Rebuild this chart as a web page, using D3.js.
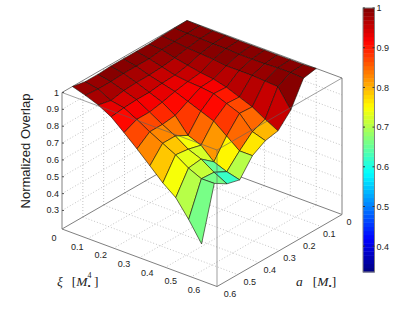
<!DOCTYPE html>
<html lang="en">
<head>
<meta charset="UTF-8">
<title>Normalized Overlap</title>
<script src="https://d3js.org/d3.v7.min.js"></script>
<style>
  html, body { margin: 0; padding: 0; background: #fff; }
  svg { display: block; }
  text { font-family: "Liberation Sans", sans-serif; fill: #222; }
  .math { font-family: "Liberation Serif", serif; font-style: italic; }
  .math .up { font-style: normal; }
</style>
</head>
<body>
<div id="chart"></div>
<script>
// grid of the surface
var xiGrid = [0, 0.05, 0.1, 0.15, 0.2, 0.25, 0.3, 0.35, 0.4, 0.45, 0.5];
var aGrid = [0, 0.061, 0.122, 0.183, 0.244, 0.306, 0.367, 0.428, 0.489, 0.55];

// overlap, one array per a value
var row0 = [1.00, 0.998, 0.996, 0.996, 0.995, 0.995, 0.995, 0.995, 0.995, 0.995, 1.00];
var row1 = [0.998, 0.995, 0.993, 0.99, 0.99, 0.985, 0.985, 0.985, 0.99, 0.99, 0.985];
var row2 = [0.995, 0.99, 0.98, 0.975, 0.97, 0.96, 0.96, 0.96, 0.955, 0.95, 0.84];
var row3 = [0.99, 0.985, 0.965, 0.95, 0.935, 0.925, 0.905, 0.875, 0.845, 0.80, 0.76];
var row4 = [0.99, 0.975, 0.955, 0.935, 0.925, 0.92, 0.91, 0.88, 0.85, 0.77, 0.745];
var row5 = [0.99, 0.975, 0.95, 0.93, 0.91, 0.88, 0.85, 0.82, 0.76, 0.70, 0.70];
var row6 = [0.99, 0.975, 0.95, 0.92, 0.89, 0.84, 0.75, 0.72, 0.65, 0.62, 0.60];
var row7 = [0.985, 0.97, 0.945, 0.92, 0.875, 0.83, 0.79, 0.74, 0.71, 0.66, 0.62];
var row8 = [0.985, 0.97, 0.93, 0.915, 0.875, 0.83, 0.79, 0.75, 0.70, 0.665, 0.666];
var row9 = [1.00, 0.976, 0.947, 0.905, 0.84, 0.772, 0.70, 0.627, 0.568, 0.467, 0.35];
var overlap = [row0, row1, row2, row3, row4, row5, row6, row7, row8, row9];

var zTicks = [0.3, 0.4, 0.5, 0.6, 0.7, 0.8, 0.9, 1];
var xiTicks = [0, 0.1, 0.2, 0.3, 0.4, 0.5, 0.6];
var aTicks = [0, 0.1, 0.2, 0.3, 0.4, 0.5, 0.6];
var barTicks = [0.4, 0.5, 0.6, 0.7, 0.8, 0.9, 1];

var width = 415, height = 312;
var svg = d3.select("#chart").append("svg").attr("width", width).attr("height", height);

// the view is orthographic, so each data axis adds a fixed screen offset
var xiX = d3.scaleLinear().domain([0, 0.6]).range([0, 155]);
var xiY = d3.scaleLinear().domain([0, 0.6]).range([0, 57.5]);
var aX = d3.scaleLinear().domain([0, 0.6]).range([0, -125]);
var aY = d3.scaleLinear().domain([0, 0.6]).range([0, 72]);
var zY = d3.scaleLinear().domain([0.19, 1]).range([0, -136.5]);

function project(xi, a, z) {
  return [187 + xiX(xi) + aX(a), 157 + xiY(xi) + aY(a) + zY(z)];
}
var line = d3.line();
var facet = d3.line().curve(d3.curveLinearClosed);

function jet(p) {
  function f(v) { return Math.round(255 * Math.max(0, Math.min(1, v))); }
  return "rgb(" + f(1.5 - Math.abs(4 * p - 3)) + "," + f(1.5 - Math.abs(4 * p - 2)) + "," + f(1.5 - Math.abs(4 * p - 1)) + ")";
}
var zMin = 0.335, zMax = 1;
var jetColors = d3.range(64).map(function(k) { return jet((k + 0.5) / 64); });
var color = d3.scaleQuantize().domain([zMin, zMax]).range(jetColors);

// grid lines on the floor and the two back walls
var zLow = 0.19;
var grid = svg.append("g").attr("fill", "none").attr("stroke", "#bdbdbd")
  .attr("stroke-width", 0.9).attr("stroke-dasharray", "1 2");
xiTicks.slice(1, -1).forEach(function(t) {
  grid.append("path").attr("d", line([project(t, 0, zLow), project(t, 0.6, zLow)]));
  grid.append("path").attr("d", line([project(t, 0, zLow), project(t, 0, 1)]));
});
aTicks.slice(1, -1).forEach(function(t) {
  grid.append("path").attr("d", line([project(0, t, zLow), project(0.6, t, zLow)]));
  grid.append("path").attr("d", line([project(0, t, zLow), project(0, t, 1)]));
});
zTicks.slice(0, -1).forEach(function(t) {
  grid.append("path").attr("d", line([project(0, 0.6, t), project(0, 0, t), project(0.6, 0, t)]));
});

// box edges behind the surface
var box = svg.append("g").attr("fill", "none").attr("stroke", "#808080").attr("stroke-width", 1);
box.append("path").attr("d", line([project(0, 0.6, 1), project(0, 0.6, zLow), project(0.6, 0.6, zLow), project(0.6, 0, zLow), project(0.6, 0, 1)]));
box.append("path").attr("d", line([project(0, 0.6, zLow), project(0, 0, zLow), project(0.6, 0, zLow)]));
box.append("path").attr("d", line([project(0, 0.6, 1), project(0, 0, 1), project(0.6, 0, 1)]));

// facets, back to front; each takes the colour of its back corner
var faces = svg.append("g").attr("stroke", "#1a1008").attr("stroke-width", 0.6).attr("stroke-linejoin", "round");
d3.range(aGrid.length - 1).forEach(function(j) {
  d3.range(xiGrid.length - 1).forEach(function(i) {
    faces.append("path")
      .attr("fill", color(overlap[j][i]))
      .attr("d", facet([
        project(xiGrid[i], aGrid[j], overlap[j][i]),
        project(xiGrid[i + 1], aGrid[j], overlap[j][i + 1]),
        project(xiGrid[i + 1], aGrid[j + 1], overlap[j + 1][i + 1]),
        project(xiGrid[i], aGrid[j + 1], overlap[j + 1][i])
      ]));
  });
});

// the front box edges show through the surface
var front = svg.append("g").attr("fill", "none").attr("stroke", "#606060").attr("stroke-width", 0.8).attr("stroke-opacity", 0.75);
front.append("path").attr("d", line([project(0, 0.6, 1), project(0.6, 0.6, 1), project(0.6, 0, 1)]));
front.append("path").attr("d", line([project(0.6, 0.6, 1), project(0.6, 0.6, zLow)]));

// z axis
var zAxis = svg.append("g").attr("font-size", 9).attr("text-anchor", "end");
zTicks.forEach(function(t) {
  var p = project(0, 0.6, t);
  zAxis.append("path").attr("d", line([p, [p[0] + 2, p[1]]])).attr("stroke", "#555");
  zAxis.append("text").attr("x", p[0] - 3).attr("y", p[1] + 3).text(t);
});

// tick labels of the floor axes
var xiLabelX = d3.scaleLinear().domain([0, 0.6]).range([54, 194]);
var xiLabelY = d3.scaleLinear().domain([0, 0.6]).range([241, 293]);
xiTicks.forEach(function(t) {
  svg.append("text").attr("x", xiLabelX(t)).attr("y", xiLabelY(t))
    .attr("font-size", 9).attr("text-anchor", "middle").text(t);
});
var aLabelX = d3.scaleLinear().domain([0, 0.6]).range([349, 230]);
var aLabelY = d3.scaleLinear().domain([0, 0.6]).range([225, 297]);
aTicks.forEach(function(t) {
  svg.append("text").attr("x", aLabelX(t)).attr("y", aLabelY(t))
    .attr("font-size", 9).attr("text-anchor", "middle").text(t);
});

// axis titles
svg.append("text").attr("transform", "translate(30,151) rotate(-90)")
  .attr("font-size", 13).attr("text-anchor", "middle").text("Normalized Overlap");

var xiTitle = svg.append("text").attr("class", "math").attr("x", 57).attr("y", 286).attr("font-size", 13.5);
xiTitle.append("tspan").text("\u03BE");
xiTitle.append("tspan").attr("class", "up").attr("dx", 9).text("[");
xiTitle.append("tspan").text("M");
xiTitle.append("tspan").attr("class", "up").attr("dy", 3).attr("font-size", 9).text("\u2022");
xiTitle.append("tspan").attr("class", "up").attr("dx", -3.2).attr("dy", -11).attr("font-size", 8).text("4");
xiTitle.append("tspan").attr("class", "up").attr("dx", 2.5).attr("dy", 8).text("]");

var aTitle = svg.append("text").attr("class", "math").attr("x", 296).attr("y", 286).attr("font-size", 13.5);
aTitle.append("tspan").text("a");
aTitle.append("tspan").attr("class", "up").attr("dx", 10).text("[");
aTitle.append("tspan").text("M");
aTitle.append("tspan").attr("class", "up").attr("dy", 3).attr("font-size", 9).text("\u2022");
aTitle.append("tspan").attr("class", "up").attr("dy", -3).text("]");

// colorbar
var barY = d3.scaleLinear().domain([zMin, zMax]).range([272, 8]);
var bar = svg.append("g");
bar.selectAll("rect").data(jetColors).enter().append("rect")
  .attr("x", 363).attr("width", 11.5)
  .attr("y", function(d, k) { return barY(zMin + (k + 1) * (zMax - zMin) / 64); })
  .attr("height", (272 - 8) / 64 + 0.4)
  .attr("fill", function(d) { return d; });
bar.append("rect").attr("x", 363).attr("y", 8).attr("width", 11.5).attr("height", 264)
  .attr("fill", "none").attr("stroke", "#808080").attr("stroke-width", 1);
var barAxis = svg.append("g").attr("transform", "translate(374.5,0)")
  .call(d3.axisRight(barY).tickValues(barTicks).tickSize(0).tickPadding(2).tickFormat(function(d) { return d; }));
barAxis.select(".domain").remove();
barAxis.selectAll("text").attr("font-family", "Liberation Sans").attr("font-size", 9).attr("fill", "#222");
barTicks.forEach(function(t) {
  bar.append("path").attr("d", line([[363, barY(t)], [365, barY(t)]])).attr("stroke", "#333");
  bar.append("path").attr("d", line([[372.5, barY(t)], [374.5, barY(t)]])).attr("stroke", "#333");
});
</script>
</body>
</html>
